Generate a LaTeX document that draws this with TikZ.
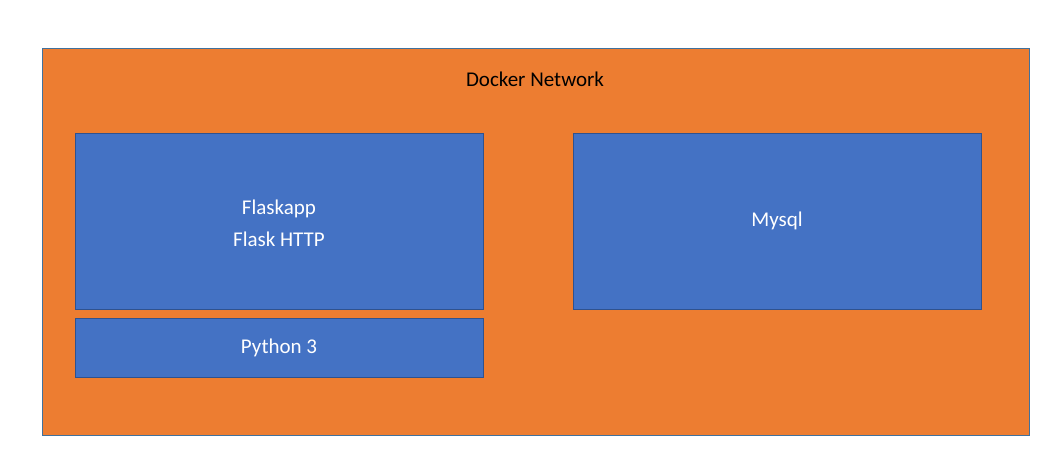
\documentclass[tikz,border=0pt]{standalone}
\usepackage{fontspec}
\setmainfont{Carlito}
\definecolor{org}{HTML}{ED7D31}
\definecolor{orgb}{HTML}{41719C}
\definecolor{blu}{HTML}{4472C4}
\definecolor{blub}{HTML}{2F528F}
\begin{document}
\begin{tikzpicture}[x=1pt,y=-1pt,
  box/.style={draw=blub,fill=blu,line width=0.8pt,text=white,font=\fontsize{21}{32}\selectfont,align=center}]
\useasboundingbox (0,0) rectangle (1061,461);
\draw[draw=orgb,fill=org,line width=0.8pt] (42,48) rectangle (1029,435);
\node[font=\fontsize{21}{26}\selectfont] (net) at (535,79) {Docker Network};
\draw[box] (75,133) rectangle (483,309);
\node[box,draw=none,fill=none] (flask) at (279,223) {Flaskapp\\Flask HTTP};
\draw[box] (75,318) rectangle (483,377);
\node[box,draw=none,fill=none] (py) at (279,348) {Python 3};
\draw[box] (573,133) rectangle (981,309);
\node[box,draw=none,fill=none] (my) at (777,221) {Mysql};
\end{tikzpicture}
\end{document}
